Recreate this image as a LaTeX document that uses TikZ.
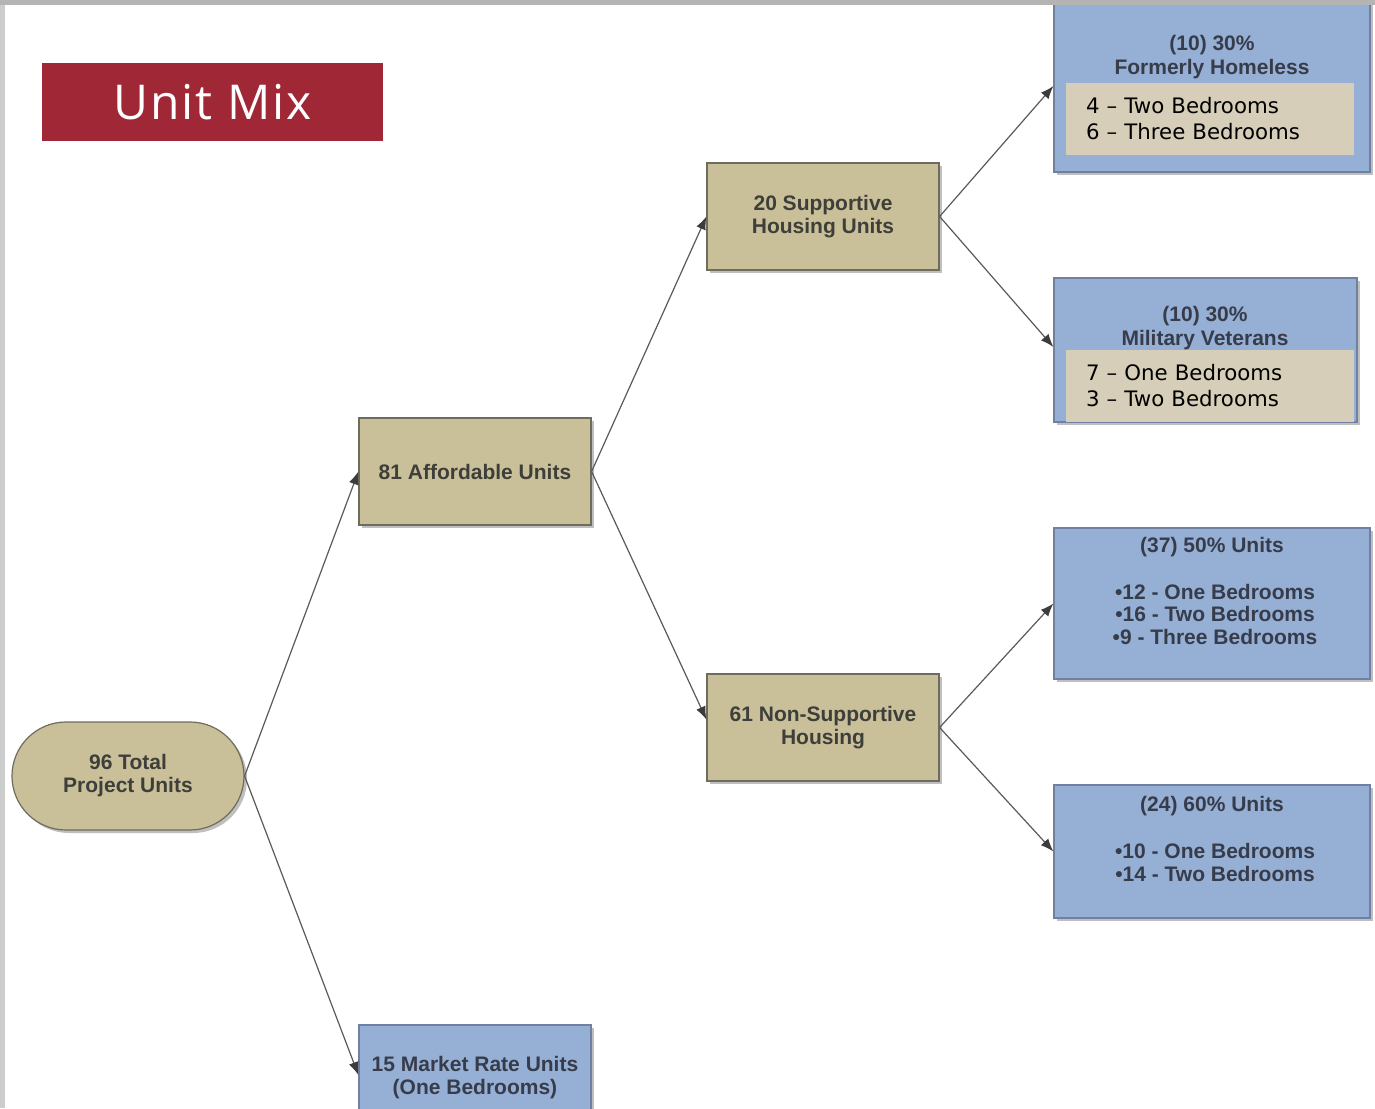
\documentclass[tikz,border=0pt]{standalone}
\usepackage{fontspec}
\setmainfont{Liberation Sans}
\newfontfamily\dejavu{DejaVu Sans}
\newfontfamily\opensans{Open Sans}
\usetikzlibrary{shadows,arrows.meta}
\definecolor{tanfill}{RGB}{201,192,153}
\definecolor{tanborder}{RGB}{110,108,92}
\definecolor{bluefill}{RGB}{150,175,212}
\definecolor{blueborder}{RGB}{112,128,160}
\definecolor{innertan}{RGB}{214,206,184}
\definecolor{txtdark}{RGB}{62,62,58}
\definecolor{txtblue}{RGB}{55,60,75}
\definecolor{unitred}{RGB}{160,39,54}
\definecolor{arrgray}{RGB}{90,90,90}
\definecolor{tipgray}{RGB}{60,60,60}
\definecolor{bargray}{RGB}{180,180,180}
\definecolor{sidegray}{RGB}{205,205,205}
\begin{document}
\begin{tikzpicture}[x=1pt,y=-1pt,
  boxfont/.style={font=\fontsize{21}{23}\selectfont\bfseries},
  shad/.style={drop shadow={shadow xshift=3pt,shadow yshift=-3pt,fill=black!45,opacity=0.55}},
  tanbox/.style={draw=tanborder,fill=tanfill,line width=1.2pt,shad,text=txtdark,boxfont,align=center,inner sep=0pt,minimum width=232,minimum height=107},
  bluebox/.style={draw=blueborder,fill=bluefill,line width=1.2pt,shad,text=txtblue,boxfont,align=center,inner sep=0pt},
  headtext/.style={text=txtblue,font=\fontsize{21}{24}\selectfont\bfseries,align=center,inner sep=0pt},
  listtext/.style={text=txtblue,font=\fontsize{21}{22.5}\selectfont\bfseries,align=center,inner sep=0pt},
  innerbox/.style={fill=innertan,minimum width=288,minimum height=72,text width=248,inner xsep=20pt,inner ysep=0pt,align=left,text=black,font=\dejavu\fontsize{21.3}{26}\selectfont},
  arr/.style={draw=arrgray,line width=1.2pt,-{Latex[length=13pt,width=10pt,color=tipgray]}}]
\useasboundingbox (0,0) rectangle (1375,1108);
\clip (0,0) rectangle (1375,1108);
\fill[white] (0,0) rectangle (1375,1108);

% title
\node[fill=unitred,minimum width=341,minimum height=78,inner sep=0pt,text=white,font=\opensans\fontsize{48}{48}\selectfont\addfontfeature{LetterSpace=4}] (title) at (212.5,102) {Unit Mix};

% left and middle nodes
\node[tanbox,rounded corners=54pt,minimum height=108] (total) at (128,776) {96 Total\\Project Units};
\node[tanbox] (aff) at (475,471.5) {81 Affordable Units};
\node[bluebox,minimum width=232,minimum height=106] (mkt) at (475,1078) {15 Market Rate Units\\(One Bedrooms)};
\node[tanbox] (sup) at (823,216.5) {20 Supportive\\Housing Units};
\node[tanbox] (non) at (823,727.5) {61 Non-Supportive\\Housing};

% right boxes
\node[bluebox,minimum width=316,minimum height=172] (fh) at (1212,86) {};
\node[headtext] (fhh) at (1212,57) {(10) 30\%\\Formerly Homeless};
\node[innerbox] (fhi) at (1210,119) {4 – Two Bedrooms\\6 – Three Bedrooms};

\node[bluebox,minimum width=303,minimum height=144] (mv) at (1205.5,350) {};
\node[headtext] (mvh) at (1205,328.5) {(10) 30\%\\Military Veterans};
\node[innerbox] (mvi) at (1210,386) {7 – One Bedrooms\\3 – Two Bedrooms};

\node[bluebox,minimum width=316,minimum height=151] (p50) at (1212,603.5) {};
\node[headtext] (p50h) at (1212,547) {(37) 50\% Units};
\node[listtext] (p50l) at (1215,614) {•12 - One Bedrooms\\•16 - Two Bedrooms\\•9 - Three Bedrooms};

\node[bluebox,minimum width=316,minimum height=133] (p60) at (1212,851.5) {};
\node[headtext] (p60h) at (1212,806) {(24) 60\% Units};
\node[listtext] (p60l) at (1215,862.5) {•10 - One Bedrooms\\•14 - Two Bedrooms};

% connectors
\draw[arr] (total.east) -- (aff.west);
\draw[arr] (total.east) -- ([yshift=3pt]mkt.west);
\draw[arr] (aff.east) -- (sup.west);
\draw[arr] (aff.east) -- ([yshift=8pt]non.west);
\draw[arr] (sup.east) -- (fh.west);
\draw[arr] (sup.east) -- ([yshift=3pt]mv.west);
\draw[arr] (non.east) -- (p50.west);
\draw[arr] (non.east) -- (p60.west);

% page edges
\fill[sidegray] (0,0) rectangle (5,1108);
\fill[bargray] (0,0) rectangle (1375,5);
\end{tikzpicture}
\end{document}
